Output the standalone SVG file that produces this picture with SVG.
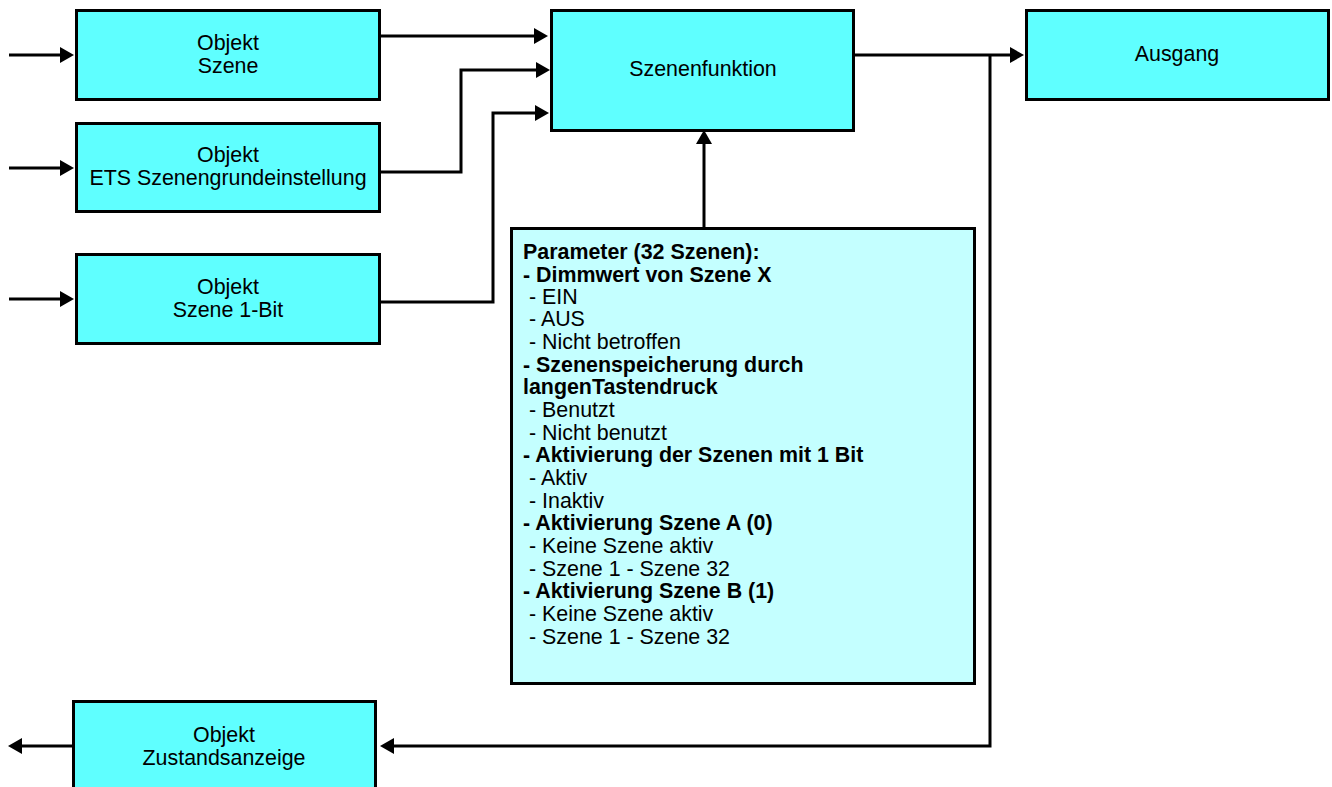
<svg xmlns="http://www.w3.org/2000/svg" width="1332" height="787" viewBox="0 0 1332 787">
<style>
text{font-family:"Liberation Sans",Arial,sans-serif;font-size:21.4px;fill:#000}
.c{text-anchor:middle}
.b{font-weight:bold}
.n{fill:#5fffff;stroke:#000;stroke-width:3}
.p{fill:#c4ffff;stroke:#000;stroke-width:3}
.l{fill:none;stroke:#000;stroke-width:3}
.a{fill:#000;stroke:none}
</style>
<rect width="1332" height="787" fill="#fff"/>
<g id="connectors">
<path class="l" d="M9 55H62"/><path class="a" d="M74 55L60 47V63Z"/>
<path class="l" d="M9 168H62"/><path class="a" d="M74 168L60 160V176Z"/>
<path class="l" d="M9 299H62"/><path class="a" d="M74 299L60 291V307Z"/>
<path class="l" d="M381 36H536"/><path class="a" d="M548 36L534 28V44Z"/>
<path class="l" d="M381 172H461V70H538"/><path class="a" d="M550 70L536 62V78Z"/>
<path class="l" d="M381 302H493V113H537"/><path class="a" d="M549 113L535 105V121Z"/>
<path class="l" d="M704 228V142"/><path class="a" d="M704 130L696 144H712Z"/>
<path class="l" d="M855 55H1012"/><path class="a" d="M1024 55L1010 47V63Z"/>
<path class="l" d="M990 55V746H392"/><path class="a" d="M380 746L394 738V754Z"/>
<path class="l" d="M73 746H20"/><path class="a" d="M8 746L22 738V754Z"/>
</g>
<g id="node-szene"><rect class="n" x="76.500" y="10.500" width="303" height="89"/><text class="c" x="228" y="50">Objekt</text><text class="c" x="228" y="73">Szene</text></g>
<g id="node-ets"><rect class="n" x="76.500" y="123.500" width="303" height="88"/><text class="c" x="228" y="162">Objekt</text><text class="c" x="228" y="185">ETS Szenengrundeinstellung</text></g>
<g id="node-1bit"><rect class="n" x="76.500" y="254.500" width="303" height="89"/><text class="c" x="228" y="294">Objekt</text><text class="c" x="228" y="316.500">Szene 1-Bit</text></g>
<g id="node-funktion"><rect class="n" x="551.500" y="10.500" width="302" height="120"/><text class="c" x="703" y="76">Szenenfunktion</text></g>
<g id="node-ausgang"><rect class="n" x="1026.500" y="10.500" width="302" height="89"/><text class="c" x="1177" y="61">Ausgang</text></g>
<g id="node-parameter"><rect class="p" x="511.500" y="228.500" width="463" height="455"/>
<text x="523" y="258.500" class="b">Parameter (32 Szenen):</text>
<text x="523" y="281.500" class="b">- Dimmwert von Szene X</text>
<text x="529" y="303.500">- EIN</text>
<text x="529" y="326">- AUS</text>
<text x="529" y="349">- Nicht betroffen</text>
<text x="523" y="372" class="b">- Szenenspeicherung durch</text>
<text x="523" y="394" class="b">langenTastendruck</text>
<text x="529" y="417">- Benutzt</text>
<text x="529" y="440">- Nicht benutzt</text>
<text x="523" y="462" class="b">- Aktivierung der Szenen mit 1 Bit</text>
<text x="529" y="485">- Aktiv</text>
<text x="529" y="508">- Inaktiv</text>
<text x="523" y="530" class="b">- Aktivierung Szene A (0)</text>
<text x="529" y="553">- Keine Szene aktiv</text>
<text x="529" y="576">- Szene 1 - Szene 32</text>
<text x="523" y="598" class="b">- Aktivierung Szene B (1)</text>
<text x="529" y="621">- Keine Szene aktiv</text>
<text x="529" y="644">- Szene 1 - Szene 32</text>
</g>
<g id="node-zustand"><rect class="n" x="73.500" y="701.500" width="302" height="100"/><text class="c" x="224" y="742">Objekt</text><text class="c" x="224" y="764.500">Zustandsanzeige</text></g>
</svg>
